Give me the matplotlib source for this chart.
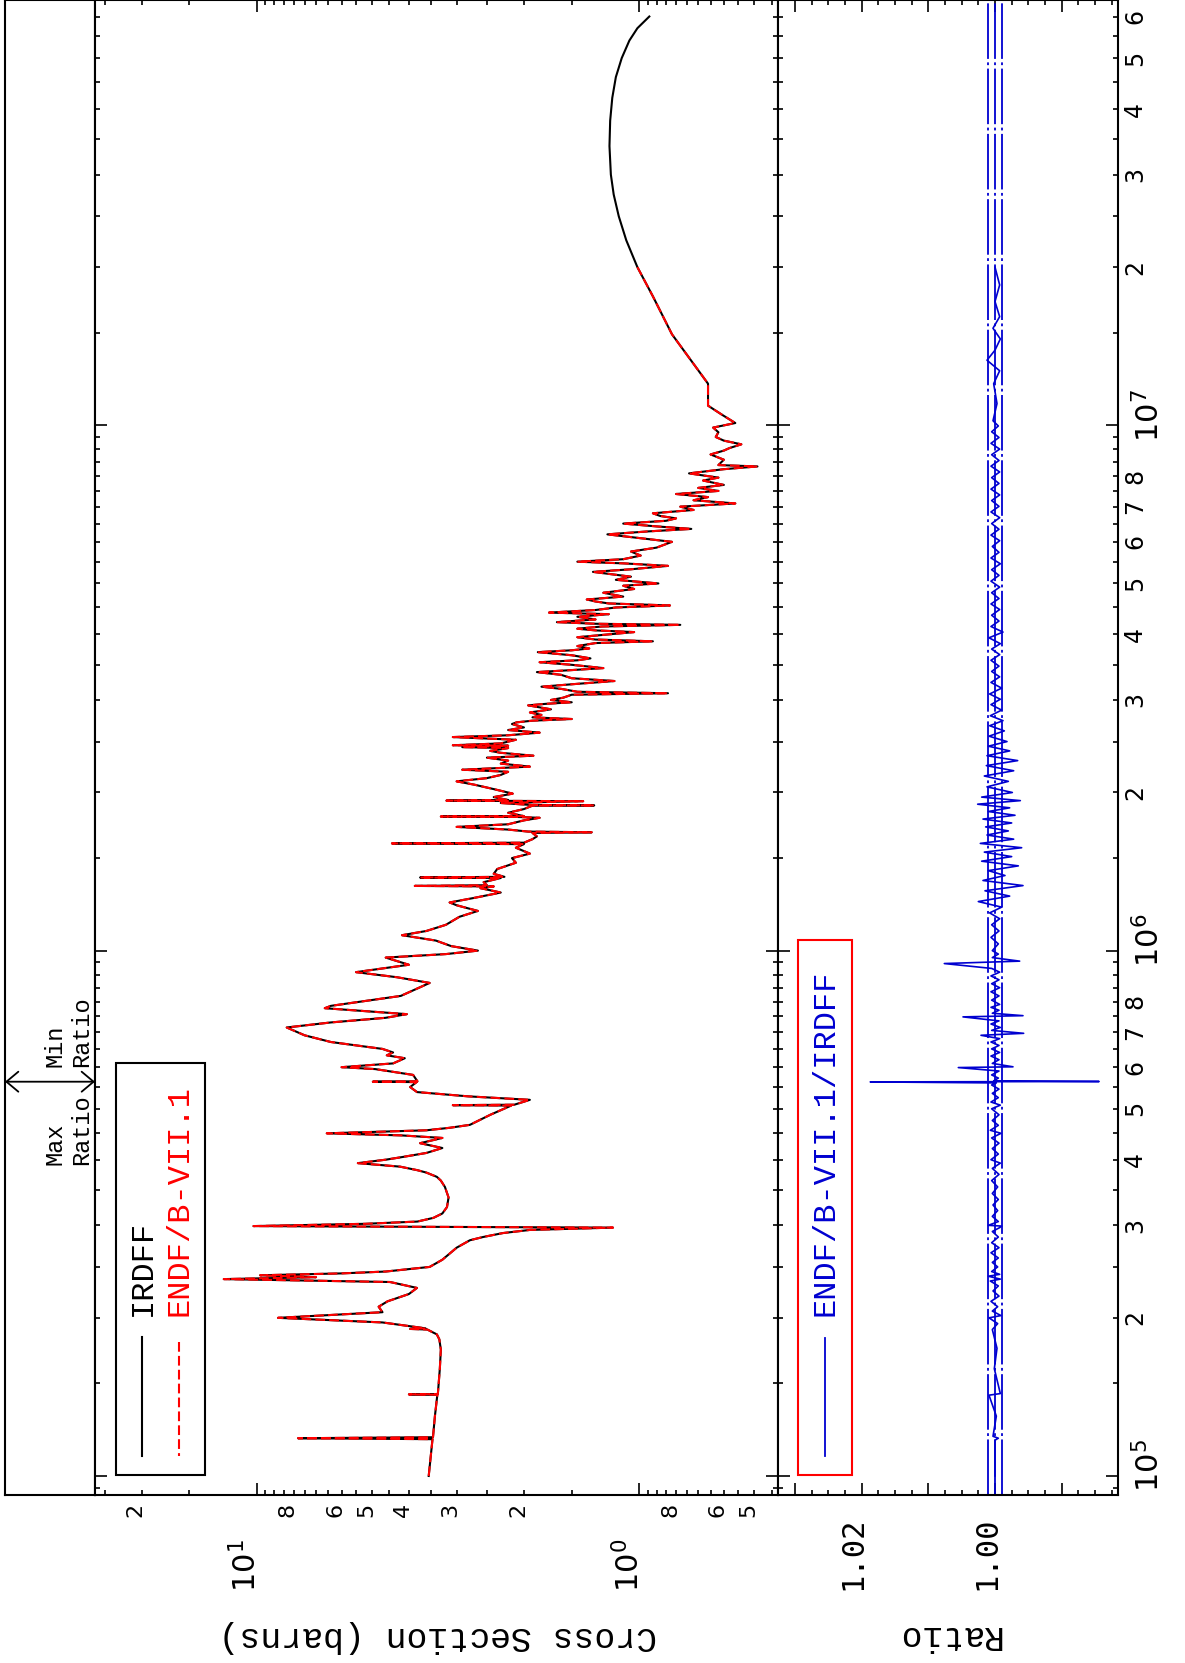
import numpy as np
import matplotlib
matplotlib.use('Agg')
import matplotlib.pyplot as plt
from matplotlib.ticker import FixedLocator, NullFormatter
from matplotlib.transforms import blended_transform_factory, ScaledTranslation
from matplotlib.patches import Rectangle
from matplotlib.lines import Line2D

plt.rcParams['lines.scale_dashes'] = False
plt.rcParams['mathtext.fontset'] = 'dejavusans'

# ---------------- data ----------------
# IRDFF cross section (energy in eV, cross section in barns)
irdff_points = [
    (1.00e5, 3.55), (1.175e5, 3.47), (1.18e5, 7.8), (1.185e5, 3.46), (1.30e5, 3.42),
    (1.428e5, 3.37), (1.43e5, 4.0), (1.432e5, 3.36), (1.60e5, 3.32), (1.74e5, 3.30),
    (1.82e5, 3.33), (1.86e5, 3.38), (1.90e5, 3.58), (1.905e5, 3.97), (1.91e5, 3.62),
    (1.96e5, 4.69), (2.00e5, 8.8), (2.05e5, 4.69), (2.10e5, 4.80), (2.15e5, 4.55),
    (2.22e5, 4.0), (2.28e5, 3.81), (2.34e5, 4.48), (2.37e5, 12.2), (2.39e5, 7.0),
    (2.41e5, 9.8), (2.43e5, 6.0), (2.45e5, 4.6), (2.50e5, 3.53), (2.58e5, 3.27),
    (2.72e5, 3.0), (2.81e5, 2.77), (2.85e5, 2.56), (2.90e5, 2.27), (2.94e5, 1.93),
    (2.96e5, 1.4), (2.97e5, 1.17), (2.99e5, 10.2), (3.02e5, 5.2), (3.05e5, 3.8),
    (3.10e5, 3.45), (3.16e5, 3.27), (3.25e5, 3.18), (3.39e5, 3.15), (3.55e5, 3.22),
    (3.65e5, 3.3), (3.71e5, 3.38), (3.78e5, 3.6), (3.82e5, 3.8), (3.88e5, 4.22),
    (3.94e5, 5.44), (4.00e5, 4.6), (4.04e5, 4.22), (4.12e5, 3.6), (4.21e5, 3.27),
    (4.30e5, 3.74), (4.40e5, 3.27), (4.45e5, 4.2), (4.49e5, 6.56), (4.55e5, 3.6),
    (4.60e5, 3.13), (4.66e5, 2.77), (4.87e5, 2.45), (5.07e5, 2.16), (5.08e5, 3.07),
    (5.09e5, 2.12), (5.20e5, 1.93), (5.28e5, 2.8), (5.38e5, 3.81), (5.50e5, 3.97),
    (5.62e5, 3.82), (5.63e5, 4.97), (5.64e5, 3.80), (5.80e5, 3.9), (5.95e5, 4.9),
    (6.00e5, 6.0), (6.10e5, 4.4), (6.24e5, 4.1), (6.32e5, 4.57), (6.40e5, 4.4),
    (6.50e5, 4.69), (6.70e5, 6.4), (6.90e5, 7.5), (7.14e5, 8.35), (7.30e5, 6.4),
    (7.45e5, 4.6), (7.57e5, 4.05), (7.77e5, 6.64), (7.85e5, 6.4), (8.20e5, 4.2),
    (8.68e5, 3.53), (8.90e5, 4.3), (9.10e5, 5.5), (9.40e5, 4.0), (9.70e5, 4.6),
    (9.85e5, 3.2), (1.00e6, 2.64), (1.02e6, 3.1), (1.045e6, 3.4), (1.07e6, 4.17),
    (1.09e6, 3.6), (1.12e6, 3.2), (1.16e6, 2.95), (1.19e6, 2.64), (1.22e6, 3.0),
    (1.235e6, 3.13), (1.26e6, 2.7), (1.29e6, 2.3), (1.315e6, 2.6), (1.325e6, 2.4),
    (1.328e6, 3.86), (1.332e6, 2.5), (1.35e6, 2.55), (1.375e6, 2.3), (1.378e6, 3.74),
    (1.382e6, 2.25), (1.40e6, 2.4), (1.43e6, 2.35), (1.47e6, 2.1), (1.50e6, 2.15),
    (1.53e6, 1.93), (1.57e6, 2.1), (1.595e6, 2.0), (1.60e6, 4.43), (1.605e6, 2.0),
    (1.63e6, 1.9), (1.65e6, 1.85), (1.675e6, 1.9), (1.68e6, 1.33), (1.685e6, 1.95),
    (1.70e6, 2.2), (1.72e6, 3.0), (1.74e6, 2.2), (1.77e6, 2.0), (1.79e6, 1.82),
    (1.797e6, 2.1), (1.80e6, 3.3), (1.803e6, 2.0), (1.83e6, 2.2), (1.86e6, 2.0),
    (1.888e6, 1.9), (1.89e6, 1.31), (1.893e6, 1.9), (1.91e6, 2.3), (1.925e6, 1.4),
    (1.93e6, 3.19), (1.935e6, 2.2), (1.96e6, 2.4), (1.99e6, 2.14), (2.03e6, 2.4),
    (2.07e6, 2.7), (2.10e6, 3.0), (2.13e6, 2.5), (2.16e6, 2.3), (2.19e6, 2.2),
    (2.21e6, 2.9), (2.23e6, 2.2), (2.24e6, 1.93), (2.27e6, 2.3), (2.30e6, 2.2),
    (2.33e6, 2.5), (2.35e6, 1.89), (2.38e6, 2.3), (2.40e6, 2.45), (2.43e6, 2.2),
    (2.44e6, 2.9), (2.455e6, 2.2), (2.46e6, 3.07), (2.48e6, 2.3), (2.52e6, 2.1),
    (2.55e6, 3.07), (2.57e6, 2.2), (2.60e6, 1.82), (2.63e6, 2.2), (2.66e6, 2.0),
    (2.70e6, 2.15), (2.72e6, 2.09), (2.74e6, 1.9), (2.76e6, 1.5), (2.78e6, 1.9),
    (2.81e6, 1.8), (2.84e6, 1.93), (2.88e6, 1.7), (2.93e6, 1.95), (2.95e6, 1.75),
    (2.97e6, 1.5), (3.00e6, 1.7), (3.03e6, 1.58), (3.07e6, 1.5), (3.09e6, 0.84),
    (3.11e6, 1.45), (3.15e6, 1.6), (3.18e6, 1.8), (3.22e6, 1.45), (3.26e6, 1.16),
    (3.30e6, 1.5), (3.35e6, 1.6), (3.39e6, 1.85), (3.42e6, 1.5), (3.45e6, 1.24),
    (3.50e6, 1.5), (3.54e6, 1.82), (3.57e6, 1.45), (3.60e6, 1.34), (3.65e6, 1.5),
    (3.70e6, 1.84), (3.73e6, 1.5), (3.76e6, 1.35), (3.80e6, 1.45), (3.85e6, 1.3),
    (3.88e6, 0.92), (3.91e6, 1.3), (3.95e6, 1.45), (4.00e6, 1.2), (4.04e6, 1.03),
    (4.07e6, 1.3), (4.10e6, 1.45), (4.14e6, 1.25), (4.17e6, 0.78), (4.19e6, 1.3),
    (4.22e6, 1.64), (4.27e6, 1.3), (4.32e6, 1.45), (4.37e6, 1.2), (4.40e6, 1.72),
    (4.45e6, 1.3), (4.50e6, 1.15), (4.54e6, 0.83), (4.58e6, 1.2), (4.62e6, 1.3),
    (4.66e6, 1.37), (4.72e6, 1.1), (4.80e6, 1.24), (4.85e6, 1.1), (4.88e6, 1.03),
    (4.95e6, 1.1), (5.00e6, 0.89), (5.08e6, 1.15), (5.15e6, 1.05), (5.26e6, 1.32),
    (5.32e6, 1.05), (5.40e6, 0.84), (5.46e6, 1.1), (5.50e6, 1.45), (5.56e6, 1.1),
    (5.65e6, 0.99), (5.75e6, 1.05), (5.85e6, 0.9), (6.00e6, 0.82), (6.10e6, 1.0),
    (6.20e6, 1.21), (6.28e6, 0.95), (6.35e6, 0.73), (6.42e6, 0.9), (6.50e6, 1.10),
    (6.58e6, 0.85), (6.65e6, 0.8), (6.72e6, 0.88), (6.80e6, 0.92), (6.90e6, 0.72),
    (7.00e6, 0.78), (7.10e6, 0.56), (7.20e6, 0.72), (7.30e6, 0.66), (7.40e6, 0.8),
    (7.50e6, 0.62), (7.60e6, 0.7), (7.70e6, 0.6), (7.85e6, 0.68), (7.95e6, 0.62),
    (8.10e6, 0.74), (8.25e6, 0.6), (8.35e6, 0.49), (8.40e6, 0.62), (8.60e6, 0.6),
    (8.80e6, 0.65), (8.95e6, 0.6), (9.05e6, 0.58), (9.20e6, 0.54), (9.35e6, 0.6),
    (9.50e6, 0.63), (9.70e6, 0.62), (9.90e6, 0.64), (1.01e7, 0.56), (1.05e7, 0.61),
    (1.09e7, 0.66), (1.20e7, 0.66), (1.40e7, 0.77), (1.49e7, 0.82), (1.76e7, 0.92),
    (2.00e7, 1.01), (2.25e7, 1.08), (2.50e7, 1.13), (2.75e7, 1.165), (3.00e7, 1.185),
    (3.40e7, 1.195), (3.80e7, 1.19), (4.20e7, 1.175), (4.60e7, 1.15), (5.00e7, 1.11),
    (5.40e7, 1.06), (5.70e7, 1.01), (6.00e7, 0.94)]
irdff_energy = [p[0] for p in irdff_points]
irdff_xs = [p[1] for p in irdff_points]

# ENDF/B-VII.1 coincides with IRDFF up to its upper energy of 20 MeV
endf_max_energy = 2.0e7
endf_energy = [e for e in irdff_energy if e <= endf_max_energy]
endf_xs = irdff_xs[:len(endf_energy)]

# ENDF/B-VII.1 / IRDFF ratio
ratio_points = [
    (1.00e5, 1.0000), (1.17e5, 1.0000), (1.18e5, 0.9995), (1.19e5, 1.0003), (1.30e5, 0.9998),
    (1.425e5, 1.0009), (1.435e5, 0.9992), (1.60e5, 1.0001), (1.75e5, 0.9997), (1.90e5, 1.0004),
    (1.95e5, 0.9996), (2.00e5, 1.0009), (2.02e5, 0.9991), (2.06e5, 1.0004), (2.10e5, 0.9996),
    (2.15e5, 1.0006), (2.20e5, 0.9994), (2.25e5, 1.0003), (2.30e5, 0.9995), (2.35e5, 1.0007),
    (2.37e5, 0.9992), (2.40e5, 1.0010), (2.42e5, 0.9993), (2.45e5, 1.0005), (2.50e5, 0.9996),
    (2.55e5, 1.0004), (2.60e5, 0.9995), (2.66e5, 1.0006), (2.72e5, 0.9994), (2.78e5, 1.0005),
    (2.85e5, 0.9995), (2.92e5, 1.0004), (2.97e5, 0.9993), (2.99e5, 0.9990), (3.00e5, 1.0010),
    (3.05e5, 0.9995), (3.12e5, 1.0004), (3.20e5, 0.9996), (3.28e5, 1.0003), (3.36e5, 0.9995),
    (3.45e5, 1.0004), (3.55e5, 0.9996), (3.65e5, 1.0005), (3.75e5, 0.9994), (3.85e5, 1.0004),
    (3.94e5, 0.9992), (4.00e5, 1.0006), (4.10e5, 0.9995), (4.20e5, 1.0004), (4.30e5, 0.9994),
    (4.40e5, 1.0005), (4.49e5, 0.9991), (4.55e5, 1.0007), (4.65e5, 0.9995), (4.75e5, 1.0004),
    (4.87e5, 0.9994), (5.00e5, 1.0005), (5.08e5, 0.9992), (5.15e5, 1.0006), (5.25e5, 0.9995),
    (5.35e5, 1.0004), (5.45e5, 0.9994), (5.55e5, 1.0005), (5.60e5, 0.9998), (5.625e5, 1.0187),
    (5.635e5, 0.9844), (5.65e5, 1.0002), (5.72e5, 0.9995), (5.80e5, 1.0005), (5.90e5, 0.9994),
    (5.99e5, 1.0055), (6.01e5, 0.9973), (6.10e5, 1.0004), (6.20e5, 0.9994), (6.30e5, 1.0006),
    (6.40e5, 0.9993), (6.50e5, 1.0005), (6.60e5, 0.9994), (6.70e5, 1.0006), (6.80e5, 0.9993),
    (6.90e5, 1.0021), (6.96e5, 0.9957), (7.05e5, 1.0005), (7.14e5, 0.9992), (7.25e5, 1.0006),
    (7.35e5, 0.9994), (7.48e5, 1.0048), (7.52e5, 0.9958), (7.60e5, 1.0004), (7.70e5, 0.9994),
    (7.80e5, 1.0006), (7.90e5, 0.9993), (8.05e5, 1.0005), (8.20e5, 0.9994), (8.35e5, 1.0006),
    (8.50e5, 0.9993), (8.65e5, 1.0005), (8.80e5, 0.9994), (8.95e5, 1.0006), (9.10e5, 0.9993),
    (9.25e5, 1.0005), (9.45e5, 1.0076), (9.55e5, 0.9963), (9.70e5, 1.0004), (9.85e5, 0.9995),
    (1.00e6, 1.0004), (1.03e6, 0.9995), (1.06e6, 1.0006), (1.09e6, 0.9994), (1.12e6, 1.0005),
    (1.15e6, 0.9993), (1.18e6, 1.0008), (1.21e6, 0.9990), (1.24e6, 1.0025), (1.27e6, 0.9978),
    (1.30e6, 1.0015), (1.33e6, 0.9958), (1.36e6, 1.0018), (1.39e6, 0.9985), (1.42e6, 1.0010),
    (1.45e6, 0.9965), (1.48e6, 1.0020), (1.51e6, 0.9975), (1.54e6, 1.0016), (1.57e6, 0.9960),
    (1.60e6, 1.0022), (1.63e6, 0.9972), (1.66e6, 1.0012), (1.69e6, 0.9980), (1.72e6, 1.0014),
    (1.75e6, 0.9975), (1.78e6, 1.0018), (1.81e6, 0.9970), (1.84e6, 1.0010), (1.87e6, 0.9978),
    (1.90e6, 1.0026), (1.93e6, 0.9962), (1.96e6, 1.0020), (2.00e6, 0.9974), (2.05e6, 1.0012),
    (2.10e6, 0.9980), (2.15e6, 1.0016), (2.20e6, 0.9972), (2.25e6, 1.0013), (2.30e6, 0.9966),
    (2.35e6, 1.0012), (2.40e6, 0.9978), (2.45e6, 1.0010), (2.50e6, 0.9982), (2.56e6, 1.0009),
    (2.62e6, 0.9986), (2.68e6, 1.0008), (2.74e6, 0.9988), (2.80e6, 1.0007), (2.87e6, 0.9990),
    (2.94e6, 1.0006), (3.01e6, 0.9992), (3.08e6, 1.0008), (3.16e6, 0.9990), (3.24e6, 1.0006),
    (3.32e6, 0.9993), (3.40e6, 1.0005), (3.48e6, 0.9994), (3.57e6, 1.0006), (3.66e6, 0.9993),
    (3.75e6, 1.0005), (3.84e6, 0.9992), (3.94e6, 1.0009), (4.04e6, 0.9988), (4.14e6, 1.0006),
    (4.24e6, 0.9994), (4.35e6, 1.0005), (4.46e6, 0.9993), (4.57e6, 1.0006), (4.68e6, 0.9994),
    (4.80e6, 1.0005), (4.92e6, 0.9993), (5.05e6, 1.0006), (5.18e6, 0.9994), (5.31e6, 1.0005),
    (5.45e6, 0.9992), (5.59e6, 1.0006), (5.73e6, 0.9994), (5.88e6, 1.0004), (6.03e6, 0.9993),
    (6.18e6, 1.0006), (6.34e6, 0.9994), (6.50e6, 1.0005), (6.67e6, 0.9993), (6.84e6, 1.0006),
    (7.01e6, 0.9994), (7.19e6, 1.0005), (7.37e6, 0.9993), (7.56e6, 1.0006), (7.75e6, 0.9994),
    (7.95e6, 1.0005), (8.15e6, 0.9993), (8.36e6, 1.0006), (8.57e6, 0.9994), (8.79e6, 1.0005),
    (9.01e6, 0.9993), (9.24e6, 1.0006), (9.48e6, 0.9994), (9.72e6, 1.0005), (9.97e6, 0.9995),
    (1.02e7, 1.0003), (1.10e7, 0.9997), (1.20e7, 1.0002), (1.27e7, 0.9993), (1.33e7, 1.0012),
    (1.39e7, 1.0000), (1.46e7, 0.9992), (1.53e7, 1.0003), (1.61e7, 0.9993), (1.72e7, 1.0000),
    (1.85e7, 0.9993), (2.00e7, 1.0000)]
ratio_energy = [p[0] for p in ratio_points]
ratio_values = [p[1] for p in ratio_points]

ratio_band = [0.999, 1.000, 1.001]
max_ratio_energy = 5.63e5

xs_major_ticks = [1.0, 10.0]
xs_minor_labels = [20, 2, 3, 4, 5, 6, 8, 0.5, 0.6, 0.8]
ratio_labels = [1.02, 1.00]
energy_decades = [5, 6, 7]

E_MIN, E_MAX = 9.2e4, 6.45e7
XS_MIN, XS_MAX = 0.433, 26.5
R_MIN, R_MAX = 0.98156, 1.03253

# ---------------- figure ----------------
W, H = 1185, 1663
DPI = 100
fig = plt.figure(figsize=(W / DPI, H / DPI), dpi=DPI)
BLUE = '#0000d0'
MONO = ['Liberation Mono', 'DejaVu Sans Mono']


def fbox(x0, y0, x1, y1):
    return [x0 / W, 1 - y1 / H, (x1 - x0) / W, (y1 - y0) / H]


def fp(x, y):
    return (x / W, 1 - y / H)


ax_s = fig.add_axes(fbox(5, 0, 95, 1495))
ax_c = fig.add_axes(fbox(95, 0, 778, 1495))
ax_r = fig.add_axes(fbox(778, 0, 1118, 1495))

for ax in (ax_s, ax_c, ax_r):
    ax.set_yscale('log')
    ax.set_ylim(E_MIN, E_MAX)
    for sp in ax.spines.values():
        sp.set_linewidth(1.5)

# strip
ax_s.set_xlim(0, 1)
ax_s.set_xticks([])
ax_s.yaxis.set_major_locator(FixedLocator([]))
ax_s.yaxis.set_minor_locator(FixedLocator([]))

# energy ticks
e_major = [10.0 ** d for d in energy_decades]
e_minor = [m * 10.0 ** d for d in range(4, 8) for m in np.arange(1.5, 10, 0.5)]
e_minor = [v for v in e_minor if E_MIN <= v <= E_MAX and v not in e_major]
for ax in (ax_c, ax_r):
    ax.yaxis.set_major_locator(FixedLocator(e_major))
    ax.yaxis.set_minor_locator(FixedLocator(e_minor))
    ax.yaxis.set_major_formatter(NullFormatter())
    ax.yaxis.set_minor_formatter(NullFormatter())

# cross section axis
ax_c.set_xscale('log')
ax_c.set_xlim(XS_MAX, XS_MIN)
xs_minor = [m * 10.0 ** d for d in (-1, 0, 1) for m in np.arange(1.5, 10, 0.5)]
xs_minor = [v for v in xs_minor if XS_MIN <= v <= XS_MAX]
ax_c.xaxis.set_major_locator(FixedLocator(xs_major_ticks))
ax_c.xaxis.set_minor_locator(FixedLocator(xs_minor))
ax_c.xaxis.set_major_formatter(NullFormatter())
ax_c.xaxis.set_minor_formatter(NullFormatter())

# ratio axis
ax_r.set_xlim(R_MAX, R_MIN)
r_major = [1.03, 1.02, 1.01, 1.00, 0.99]
r_minor = [round(0.98 + 0.0025 * i, 4) for i in range(0, 22)]
r_minor = [v for v in r_minor if R_MIN <= v <= R_MAX and min(abs(v - m) for m in r_major) > 1e-6]
ax_r.xaxis.set_major_locator(FixedLocator(r_major))
ax_r.xaxis.set_minor_locator(FixedLocator(r_minor))
ax_r.xaxis.set_major_formatter(NullFormatter())
ax_r.xaxis.set_minor_formatter(NullFormatter())

for ax in (ax_c, ax_r):
    ax.tick_params(which='both', direction='in', left=True, right=True, top=True, bottom=True,
                   labelleft=False, labelright=False, labelbottom=False, labeltop=False, width=1.2)
    ax.tick_params(which='major', length=8.6)
    ax.tick_params(which='minor', length=3.8)

# curves
ax_c.plot(irdff_xs, irdff_energy, color='black', lw=1.5, zorder=3)
ax_c.plot(endf_xs, endf_energy, color='red', lw=1.5, dashes=(7, 3), zorder=4)

for v in ratio_band:
    ax_r.axvline(v, color=BLUE, lw=1.3, dashes=(40, 2.5, 2, 2.5), zorder=2)
ax_r.plot(ratio_values, ratio_energy, color=BLUE, lw=1.2, zorder=3)


# ---------------- tick labels (rotated) ----------------
def bottom_label(ax, v, s, pad_px, size, family, dx_px=0.0):
    tr = blended_transform_factory(ax.transData, ax.transAxes) + \
        ScaledTranslation(dx_px / DPI, -pad_px / DPI, fig.dpi_scale_trans)
    ax.text(v, 0, s, transform=tr, rotation=90, rotation_mode='anchor', ha='right',
            va='baseline', fontsize=size, family=family, clip_on=False)


def right_label(ax, v, s, pad_px, size, dy_px=0.0):
    tr = blended_transform_factory(ax.transAxes, ax.transData) + \
        ScaledTranslation(pad_px / DPI, dy_px / DPI, fig.dpi_scale_trans)
    ax.text(1, v, s, transform=tr, rotation=90, rotation_mode='anchor', ha='center',
            va='top', fontsize=size, family='DejaVu Sans', clip_on=False)


def mantissa(v):
    d = int(np.floor(np.log10(v) + 1e-9))
    return str(int(round(v / 10.0 ** d)))


for v in xs_minor_labels:
    bottom_label(ax_c, v, mantissa(v), 8, 16, 'DejaVu Sans')
for v in xs_major_ticks:
    bottom_label(ax_c, v, '$10^{%d}$' % int(round(np.log10(v))), 44, 22, 'DejaVu Sans')
for v in ratio_labels:
    bottom_label(ax_r, v, '%.2f' % v, 21, 22, 'DejaVu Sans Mono')

for d in energy_decades:
    for m in range(2, 9):
        v = m * 10.0 ** d
        if E_MIN <= v <= E_MAX:
            right_label(ax_r, v, str(m), 5, 17)
for d in energy_decades:
    right_label(ax_r, 10.0 ** d, '$10^{%d}$' % d, 15, 22, dy_px=10)

# axis titles
fig.text(*fp(438, 1637), 'Cross Section (barns)', rotation=180, ha='center', va='center',
         fontsize=25, family=MONO)
fig.text(*fp(948, 1636), 'Ratio', rotation=180, ha='center', va='center',
         fontsize=25, family=MONO)

# ---------------- legends ----------------
fig.add_artist(Rectangle(fp(116, 1475), 89 / W, 412 / H, transform=fig.transFigure,
                         fill=False, ec='black', lw=1.5))
fig.add_artist(Line2D([142 / W, 142 / W], [1 - 1337 / H, 1 - 1456 / H], transform=fig.transFigure,
                      color='black', lw=1.5))
fig.add_artist(Line2D([179 / W, 179 / W], [1 - 1342 / H, 1 - 1456 / H], transform=fig.transFigure,
                      color='red', lw=1.5, dashes=(7, 3)))
fig.text(*fp(143, 1316), 'IRDFF', rotation=90, rotation_mode='anchor', ha='left', va='center',
         fontsize=23, family=MONO, color='black')
fig.text(*fp(180, 1316), 'ENDF/B-VII.1', rotation=90, rotation_mode='anchor', ha='left',
         va='center', fontsize=23, family=MONO, color='red')

fig.add_artist(Rectangle(fp(798, 1475), 54 / W, 535 / H, transform=fig.transFigure,
                         fill=False, ec='red', lw=1.5))
fig.add_artist(Line2D([825 / W, 825 / W], [1 - 1338 / H, 1 - 1456 / H], transform=fig.transFigure,
                      color=BLUE, lw=1.3))
fig.text(*fp(826, 1316), 'ENDF/B-VII.1/IRDFF', rotation=90, rotation_mode='anchor', ha='left',
         va='center', fontsize=23, family=MONO, color=BLUE)

# ---------------- max / min ratio marker ----------------
tr_s = blended_transform_factory(ax_s.transAxes, ax_s.transData)
ax_s.annotate('', xy=(0, max_ratio_energy), xytext=(1, max_ratio_energy), xycoords=tr_s,
              textcoords=tr_s,
              arrowprops=dict(arrowstyle='<->,head_length=0.86,head_width=0.72', lw=1.3,
                              color='black', shrinkA=0, shrinkB=0, mutation_scale=10))
ax_s.annotate('Min\nRatio', xy=(0.706, max_ratio_energy), xycoords=tr_s, xytext=(0, 10.8),
              textcoords='offset points', rotation=90, rotation_mode='anchor', ha='left',
              va='center', multialignment='left', fontsize=17, family=MONO)
ax_s.annotate('Max\nRatio', xy=(0.706, max_ratio_energy), xycoords=tr_s, xytext=(0, -59.8),
              textcoords='offset points', rotation=90, rotation_mode='anchor', ha='left',
              va='center', multialignment='left', fontsize=17, family=MONO)

fig.savefig('out.png', dpi=DPI)
